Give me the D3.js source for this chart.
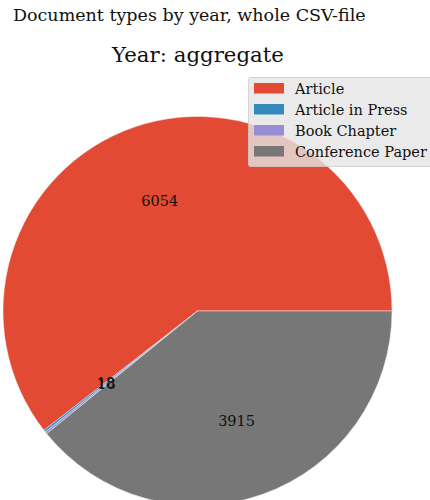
<html>
<head>
<style>
  body { margin: 0; background: #fff; }
  svg text { font-family: "DejaVu Serif", serif; fill: #111; }
</style>
</head>
<body>
<svg class="chart" width="430" height="500"></svg>
<script src="https://d3js.org/d3.v7.min.js"></script>
<script>
// document counts, whole csv
var categories = ["Article", "Article in Press", "Book Chapter", "Conference Paper"];
var counts = [6054, 18, 18, 3915];
var colours = ["#E24A33", "#348ABD", "#988ED5", "#777777"];

var cx = 197.5, cy = 311, radius = 194.5;

var svg = d3.select(".chart");

svg.append("text")
    .attr("x", 13).attr("y", 21)
    .style("font-size", "17.5px")
    .text("Document types by year, whole CSV-file");

svg.append("text")
    .attr("x", 198).attr("y", 62)
    .attr("text-anchor", "middle")
    .style("font-size", "21.3px")
    .text("Year: aggregate");

var colour = d3.scaleOrdinal().domain(categories).range(colours);

// matplotlib style: start at 3 o'clock, go counter-clockwise
var pie = d3.pie()
    .sort(null)
    .startAngle(Math.PI / 2)
    .endAngle(Math.PI / 2 - 2 * Math.PI);

var arcs = pie(counts);
var arc = d3.arc().innerRadius(0).outerRadius(radius);
var labelArc = d3.arc().innerRadius(radius * 0.6).outerRadius(radius * 0.6);

var g = svg.append("g").attr("transform", "translate(" + cx + "," + cy + ")");

g.selectAll("path")
    .data(arcs)
    .enter()
    .append("path")
    .attr("d", arc)
    .style("fill", function(d, i) { return colour(categories[i]); })
    .style("stroke", "#eeeeee")
    .style("stroke-width", 0.5);

g.selectAll("text.lbl")
    .data(arcs)
    .enter()
    .append("text")
    .attr("class", "lbl")
    .attr("transform", function(d) { return "translate(" + labelArc.centroid(d) + ")"; })
    .attr("text-anchor", "middle")
    .attr("dy", "0.35em")
    .style("font-size", "14.5px")
    .text(function(d) { return d.data; });

// legend
var legend = svg.append("g").attr("transform", "translate(248.5,77.5)");
legend.append("rect")
    .attr("width", 190).attr("height", 89)
    .attr("rx", 2)
    .style("fill", "#e5e5e5")
    .style("fill-opacity", 0.8)
    .style("stroke", "#cccccc")
    .style("stroke-width", 0.8);

var items = legend.selectAll("g.item")
    .data(categories)
    .enter()
    .append("g")
    .attr("class", "item")
    .attr("transform", function(d, i) { return "translate(0," + (5.5 + i * 21) + ")"; });

items.append("rect")
    .attr("x", 5.5).attr("width", 30).attr("height", 10.5)
    .style("fill", function(d) { return colour(d); });

items.append("text")
    .attr("x", 46.5).attr("y", 10.5)
    .style("font-size", "14.5px")
    .text(function(d) { return d; });
</script>
</body>
</html>
